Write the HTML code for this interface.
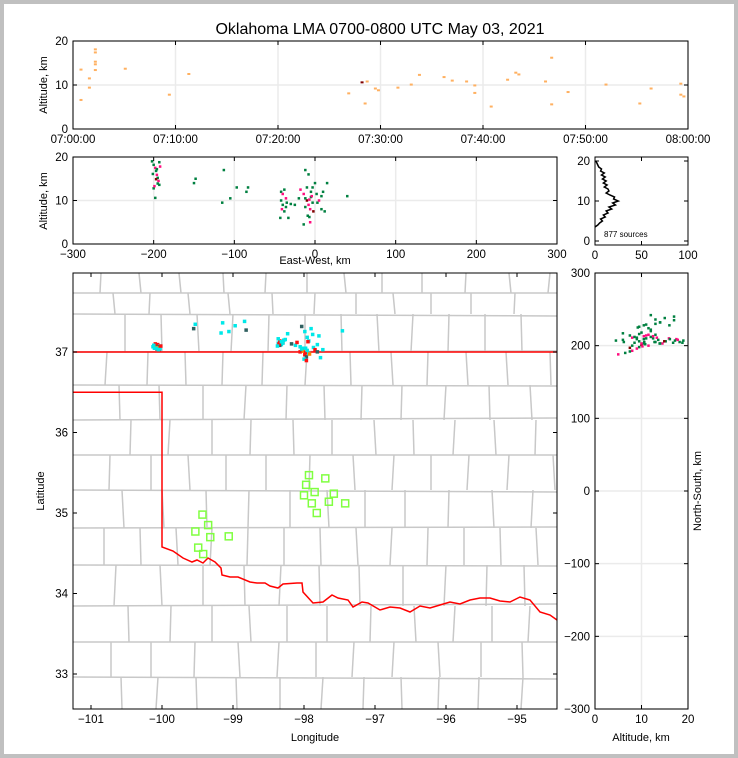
<!DOCTYPE html>
<html><head><meta charset="utf-8"><style>
html,body{margin:0;padding:0;background:#fff}
#wrap{width:738px;height:758px;position:relative;overflow:hidden}
svg text{font-family:"Liberation Sans",sans-serif;fill:#000}
</style></head><body>
<div id="wrap">
<svg id="fig" width="738" height="758" viewBox="0 0 738 758">
<rect x="2" y="2" width="734" height="754" fill="#fff" stroke="#c0c0c0" stroke-width="4"/>
<text x="380" y="34" font-size="16" text-anchor="middle">Oklahoma LMA 0700-0800 UTC May 03, 2021</text>
<g id="g"></g>
</svg>
</div>
<script>
// ---- time-height data (minutes after 07:00, altitude km)
const timeMin=[0.78,0.78,1.6,1.6,2.18,2.18,2.18,2.18,2.18,5.1,9.4,11.3,26.9,28.2,28.7,28.5,29.5,29.8,31.7,33.0,33.8,36.2,37.0,38.4,39.2,39.2,40.8,42.4,43.2,43.5,46.1,46.7,46.7,48.3,52.0,55.3,56.4,59.3,59.3,59.6];
const timeAlt=[13.5,6.6,11.5,9.4,18.1,17.4,15.3,14.7,13.4,13.7,7.8,12.5,8.1,10.6,10.8,5.8,9.2,8.8,9.4,10.1,12.3,11.8,11,10.8,9.9,8.2,5.1,11.2,12.8,12.4,10.8,16.2,5.6,8.4,10.1,5.8,9.2,10.3,7.8,7.4];
const timeColor=['#ffb060','#ffb060','#ffb060','#ffb060','#ffb060','#ffb060','#ffb060','#ffb060','#ffb060','#ffb060','#ffb060','#ffb060','#ffb060','#800000','#ffb060','#ffb060','#ffb060','#ffb060','#ffb060','#ffb060','#ffb060','#ffb060','#ffb060','#ffb060','#ffb060','#ffb060','#ffb060','#ffb060','#ffb060','#ffb060','#ffb060','#ffb060','#ffb060','#ffb060','#ffb060','#ffb060','#ffb060','#ffb060','#ffb060','#ffb060'];
const timeTicks=['07:00:00','07:10:00','07:20:00','07:30:00','07:40:00','07:50:00','08:00:00'];
// ---- source data (east-west km, north-south km, altitude km, colour class)
const srcEW=[-202,-200,-198,-197,-196,-195,-194,-193,-200,-199,-196,-193,-201,-197,-195,-192,-198,
 -150,-148,-113,-105,-115,-97,-85,-83,40,
 -42,-40,-38,-42,-36,-40,-35,-41,-38,-43,-33,-36,
 -12,-8,-5,-3,0,-10,-14,-12,-10,-7,-5,-3,-8,-12,-6,-2,3,5,8,10,12,8,2,-4,-9,-6,-14,-20,-25,-30,15,-7,-18];
const srcNS=[207,205,209,204,210,206,203,208,205,211,207,204,209,206,203,208,205,
 232,238,240,228,226,236,242,230,229,
 212,215,210,218,213,209,216,211,214,208,217,212,
 235,228,220,215,232,205,200,203,201,199,202,198,196,204,193,197,206,203,210,222,192,200,224,214,190,188,207,209,211,225,203,205,213];
const srcAlt=[19,18.2,17.5,16.8,15.9,15.2,14.5,13.6,12.8,13.3,17.2,18.8,16.1,14.9,13.9,17.8,10.6,
 14,15,17,10.5,9.5,13,12,13,11,
 12,11.5,12.5,10,10.5,9,9.5,8,7.5,6,6,8.5,
 17,16,12,13,14,13,11.5,10.5,10,10.2,10.8,9.5,9,8.5,8,7.5,9.5,10,11,12,7.5,8,11.5,11,6.5,5,4.5,10.5,9,9.2,14,6.2,12.5];
const srcCls=[0,0,1,0,1,0,1,0,0,1,0,0,0,2,0,1,0,
 0,0,0,0,0,0,0,0,0,
 0,1,0,0,1,0,0,1,0,0,0,0,
 0,0,0,0,0,0,1,0,2,1,0,0,1,0,1,2,0,1,0,0,0,0,0,1,0,1,0,0,0,0,0,0,1];
// ---- altitude histogram (counts per 0.5 km from 3.5 km)
const histAlt=[3.5,4,4.5,5,5.5,6,6.5,7,7.5,8,8.5,9,9.5,10,10.5,11,11.5,12,12.5,13,13.5,14,14.5,15,15.5,16,16.5,17,17.5,18,18.5,19,19.5,20];
const histCnt=[0,3,5,8,6,11,9,14,12,18,15,22,19,25,20,21,16,12,15,14,10,13,9,12,8,11,7,10,6,7,4,3,2,1];
// ---- stations (lon, lat)
const staLon=[-99.43,-99.35,-99.53,-99.32,-99.06,-99.49,-99.42,-97.93,-97.70,-97.97,-97.85,-98.0,-97.58,-97.89,-97.65,-97.42,-97.82];
const staLat=[34.98,34.85,34.77,34.70,34.71,34.57,34.49,35.47,35.43,35.35,35.26,35.22,35.24,35.12,35.14,35.12,35.00];
// ---- Red River border trace
const riverX=[162,173,183,192,197,203,208,215,221,222,230,238,250,257,265,270,278,283,297,302,303,313,323,332,338,348,353,362,368,380,390,400,410,420,430,440,450,460,470,480,490,500,510,520,530,540,550,557];
const riverY=[547,551,558,562,560,563,558,562,568,575,577,577,582,583,583,586,588,584,583,583,592,603,602,595,598,600,607,602,603,610,607,608,612,606,608,605,602,604,600,598,598,601,602,597,600,612,615,620];

const NS='http://www.w3.org/2000/svg';
const G=document.getElementById('g');
function mk(tag,at,par){const e=document.createElementNS(NS,tag);for(const k in at)e.setAttribute(k,at[k]);(par||G).appendChild(e);return e;}
function txt(x,y,s,fs,anchor,rot){const t=mk('text',{x:x,y:y,'font-size':fs,'text-anchor':anchor||'middle'});if(rot)t.setAttribute('transform','rotate(-90 '+x+' '+y+')');t.textContent=s;return t;}

const tx=t=>73+t*615/60, ty=a=>129-a*4.4;
const px=e=>315+e*0.8067, py=a=>244-a*4.35;
const hx=c=>595+c*0.93, hy=a=>241-a*4;
const mx=lon=>91+(lon+101)*71, my=lat=>352-(lat-37)*80.5;
const rx=a=>595+a*4.65, ry=n=>491-n*0.7267;
const toLon=e=>-97.9+e/90.7, toLat=n=>35.2+n/111;

function frame(x0,y0,x1,y1,xt,yt,name){
  const grp=mk('g',{});
  
  
  xt.forEach(v=>{mk('line',{x1:v[0],x2:v[0],y1:y0,y2:y1,stroke:'#ebebeb','stroke-width':1.5},grp);});
  yt.forEach(v=>{mk('line',{x1:x0,x2:x1,y1:v[0],y2:v[0],stroke:'#ebebeb','stroke-width':1.5},grp);});
}
function axes(x0,y0,x1,y1,xt,yt,name){
  const grp=mk('g',{});
  
  
  mk('rect',{x:x0,y:y0,width:x1-x0,height:y1-y0,fill:'none',stroke:'#000','stroke-width':1},grp);
  xt.forEach(v=>{mk('line',{x1:v[0],x2:v[0],y1:y1,y2:y1-4,stroke:'#000'},grp);mk('line',{x1:v[0],x2:v[0],y1:y0,y2:y0+4,stroke:'#000'},grp);grp.appendChild(txt(v[0],y1+14,v[1],11.5,'middle'));});
  yt.forEach(v=>{mk('line',{x1:x0,x2:x0+4,y1:v[0],y2:v[0],stroke:'#000'},grp);mk('line',{x1:x1,x2:x1-4,y1:v[0],y2:v[0],stroke:'#000'},grp);grp.appendChild(txt(x0-5,v[0]+4,v[1],11.5,'end'));});
}
function dot(x,y,c,w,h,name){if(isNaN(x)||isNaN(y))return;const r=mk('rect',{x:x-w/2,y:y-h/2,width:w,height:h,fill:c});
  
  }

// ---- top panel
const topX=timeTicks.map((s,i)=>[tx(i*10),s]), topY=[[ty(0),'0'],[ty(10),'10'],[ty(20),'20']];
frame(73,41,688,129,topX,topY,'time-height-grid');
timeMin.forEach((t,i)=>dot(tx(t),ty(timeAlt[i]),timeColor[i],3,2,'time-height-point'));
axes(73,41,688,129,topX,topY,'time-height-axes');
txt(47,85,'Altitude, km',11,'middle',true);

// ---- east-west vs altitude
const ewX=[-300,-200,-100,0,100,200,300].map(v=>[px(v),String(v).replace('-','\u2212')]), ewY=[[py(0),'0'],[py(10),'10'],[py(20),'20']];
frame(73,157,557,244,ewX,ewY,'ew-alt-grid');
const pal2=['#008040','#ff0d7f','#800000'];
srcEW.forEach((e,i)=>dot(px(e),py(srcAlt[i]),pal2[srcCls[i]],2.5,2.5,'ew-alt-point'));
axes(73,157,557,244,ewX,ewY,'ew-alt-axes');
txt(47,201,'Altitude, km',11,'middle',true);
txt(315,264,'East-West, km',11,'middle');

// ---- histogram
const hX=[0,50,100].map(v=>[hx(v),String(v)]), hY=[[hy(0),'0'],[hy(10),'10'],[hy(20),'20']];
axes(595,157,688,245,hX,hY,'histogram-axes');
const hp=mk('polyline',{points:histAlt.map((a,i)=>hx(histCnt[i])+','+hy(a)).join(' '),fill:'none',stroke:'#000','stroke-width':1.5});


txt(604,237,'877 sources',8,'start');

// ---- map
const mapG=mk('g',{});


const rowsY=[273,293,314,352,385,420,455,490,528,565,606,642,677,709];
const offs=[0,12,24,6,18,30,9,21,3,15,27,10,20];
for(let r=0;r<rowsY.length-1;r++){
  if(r>0) mk('line',{x1:73,x2:557,y1:rowsY[r],y2:rowsY[r]+((r*7)%5)-2,stroke:'#c8c8c8','stroke-width':1.5},mapG);
  for(let x=73+offs[r]+28;x<557;x+=36+((r*5+x)%9)){
    mk('line',{x1:x,x2:x+((x+r)%5)-2,y1:rowsY[r],y2:rowsY[r+1],stroke:'#c8c8c8','stroke-width':1.5},mapG);
  }
}
const lonT=[-101,-100,-99,-98,-97,-96,-95].map(v=>[mx(v),String(v).replace('-','\u2212')]);
const latT=[33,34,35,36,37].map(v=>[my(v),String(v)]);
const bd=mk('path',{d:'M73,'+my(37)+' L557,'+my(37)+' M73,'+my(36.5)+' L'+mx(-100)+','+my(36.5)+' L162,547 '+riverX.map((x,i)=>'L'+x+','+riverY[i]).join(' '),fill:'none',stroke:'#ff0000','stroke-width':1.5});


const palM=['#00e8e8','#ff1010','#ff8000'];
srcEW.forEach((e,i)=>{const c=(i%7==3)?'#306060':palM[srcCls[i]];dot(mx(toLon(e)),my(toLat(srcNS[i])),c,3.5,3.5,'map-source-point');});
staLon.forEach((l,i)=>{const s=mk('rect',{x:mx(l)-3.5,y:my(staLat[i])-3.5,width:7,height:7,fill:'none',stroke:'#80ff40','stroke-width':1.5});
  
  });
axes(73,273,557,709,lonT,latT,'map-axes');
txt(44,491,'Latitude',11,'middle',true);
txt(315,741,'Longitude',11,'middle');

// ---- altitude vs north-south
const rX=[0,10,20].map(v=>[rx(v),String(v)]), rY=[-300,-200,-100,0,100,200,300].map(v=>[ry(v),String(v).replace('-','\u2212')]);
frame(595,273,688,709,rX,rY,'alt-ns-grid');
srcNS.forEach((n,i)=>dot(rx(srcAlt[i]),ry(n),pal2[srcCls[i]],2.5,2.5,'alt-ns-point'));
axes(595,273,688,709,rX,rY,'alt-ns-axes');
txt(701,491,'North-South, km',11,'middle',true);
txt(641,741,'Altitude, km',11,'middle');
</script>
</body></html>
